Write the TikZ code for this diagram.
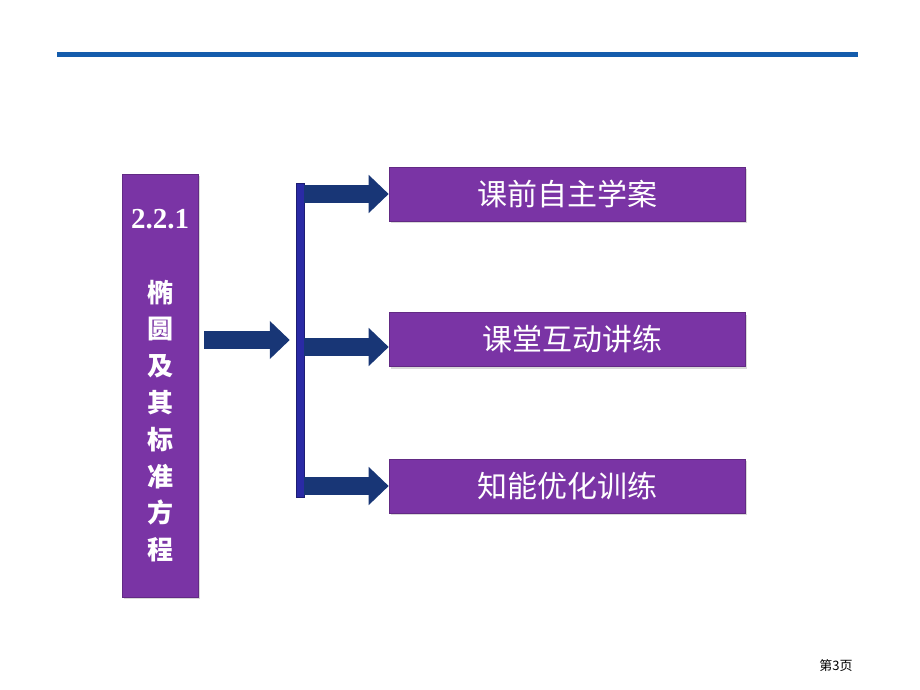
\documentclass[tikz,border=0pt]{standalone}
\usepackage{fontspec}
\setmainfont{Liberation Serif}
\newfontfamily\cjk{Noto Sans CJK SC}
\usetikzlibrary{arrows.meta,shadows}
\definecolor{topline}{RGB}{20,92,172}
\definecolor{boxpurple}{RGB}{122,52,165}
\definecolor{barblue}{RGB}{42,42,165}
\definecolor{arrownavy}{RGB}{24,54,118}

\begin{document}
\begin{tikzpicture}[x=1bp,y=-1bp,
   topic/.style={fill=boxpurple, draw=boxpurple!80!black, line width=0.6bp, inner sep=0pt,
      drop shadow={opacity=0.3,shadow xshift=2bp,shadow yshift=-2bp}},
   item/.style={topic, minimum width=356bp, minimum height=54bp, text=white,
      font=\cjk\fontsize{30bp}{30bp}\selectfont},
   fat/.style={line width=18bp, arrownavy, -{Triangle[length=20bp,width=37bp]}}]
   \useasboundingbox (0,0) rectangle (920,690);

   % top rule
   \coordinate (l0) at (57,54.5);
   \coordinate (l1) at (858,54.5);
   \draw[topline, line width=4.5bp] (l0) -- (l1);

   % left title box
   \node[topic, minimum width=76bp, minimum height=423bp] (title) at (160,385.5) {};
   \node[text=white, font=\bfseries\fontsize{29bp}{29bp}\selectfont] (num) at (160,219) {2.2.1};
   \node[text=white, align=center, inner sep=0pt,
      font=\cjk\bfseries\fontsize{26bp}{36.8bp}\selectfont] (name) at (160,421)
      {椭\\圆\\及\\其\\标\\准\\方\\程};

   % bracket bar
   \node[fill=barblue, draw=barblue!70!black, line width=0.5bp, inner sep=0pt,
      minimum width=8bp, minimum height=314bp] (bar) at (300,340) {};

   % right boxes
   \node[item] (pre) at (567,194) {课前自主学案};
   \node[item] (cls) at (567,339.5) {\hspace*{10bp}课堂互动讲练};
   \node[item] (trn) at (567,486) {知能优化训练};

   % arrows
   \coordinate (j2) at (300,347);
   \draw[fat, shorten <=6bp, shorten >=6bp] (title.east |- bar) -- (bar.west);
   \draw[fat] (bar.east |- pre) -- (pre.west);
   \draw[fat] (bar.east |- j2) -- (cls.west |- j2);
   \draw[fat] (bar.east |- trn) -- (trn.west);

   % page number
   \node[font=\cjk\fontsize{13bp}{13bp}\selectfont] (page) at (836,666) {第3页};
\end{tikzpicture}
\end{document}
